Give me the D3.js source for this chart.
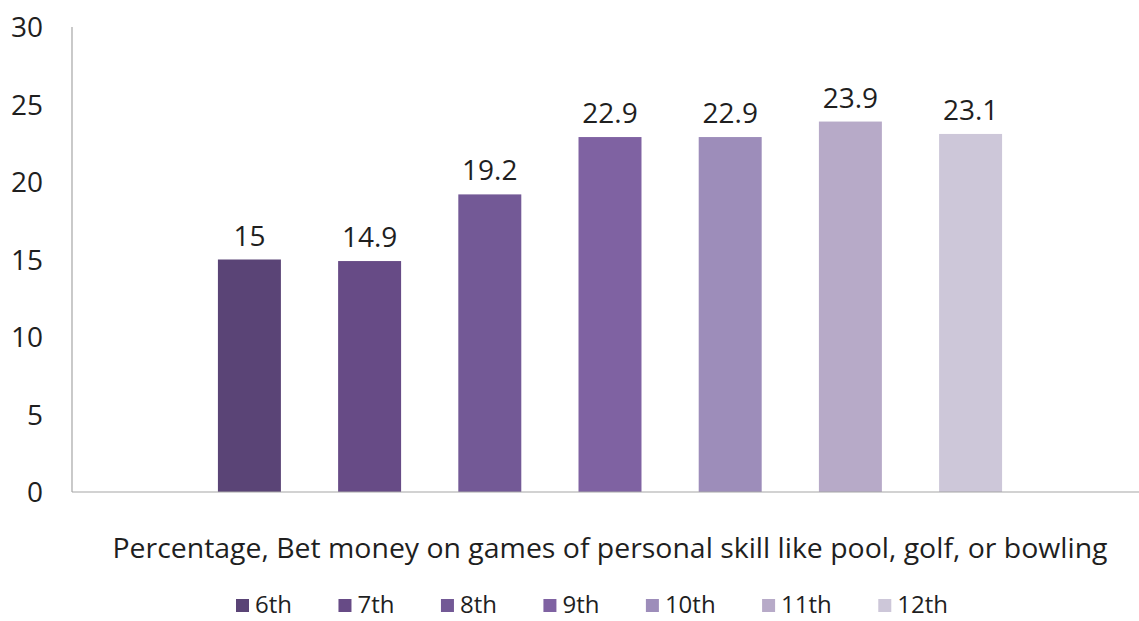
<!DOCTYPE html>
<html>
<head>
<meta charset="utf-8">
<script src="https://cdn.jsdelivr.net/npm/d3@7"></script>
<style>
  html, body { margin: 0; padding: 0; background: #ffffff; }
  svg { display: block; }
  text { font-family: "Open Sans", "DejaVu Sans", sans-serif; fill: #1f1f1f; }
</style>
</head>
<body>
<svg id="chart" width="1139" height="621"></svg>
<script>
// Grade levels (one bar each) and their percentages
const grades = ["6th", "7th", "8th", "9th", "10th", "11th", "12th"];
const values = [15, 14.9, 19.2, 22.9, 22.9, 23.9, 23.1];
const colors = ["#5a4476", "#674b86", "#735996", "#7f62a2", "#9d8dba", "#b7aac8", "#cdc7d9"];
const yTicks = [0, 5, 10, 15, 20, 25, 30];
const categoryLabel = "Percentage, Bet money on games of personal skill like pool, golf, or bowling";

const W = 1139, H = 621;
const plot = { left: 72, right: 1148, top: 27, bottom: 492 };

const svg = d3.select("#chart");

const y = d3.scaleLinear().domain([0, 30]).range([plot.bottom, plot.top]);
const x = d3.scaleBand()
  .domain(grades)
  .range([plot.left, plot.right])
  .paddingInner(0.476)
  .paddingOuter(1.214);

// Value axis: labels only, with a plain vertical rule
const yAxis = d3.axisLeft(y).tickValues(yTicks).tickSize(0).tickPadding(0);
const gy = svg.append("g").attr("transform", `translate(43,0)`).call(yAxis);
gy.select(".domain").remove();
gy.selectAll("text")
  .attr("x", 0)
  .attr("dy", "0.34em")
  .style("font-family", '"Open Sans", sans-serif')
  .style("font-size", "28px")
  .attr("fill", "#1f1f1f");

svg.append("line")
  .attr("x1", plot.left).attr("x2", plot.left)
  .attr("y1", plot.top).attr("y2", plot.bottom)
  .attr("stroke", "#a6a6a6").attr("stroke-width", 1.2);

// Bars
svg.append("g").selectAll("rect")
  .data(grades)
  .join("rect")
  .attr("x", d => x(d))
  .attr("width", x.bandwidth())
  .attr("y", (d, i) => y(values[i]))
  .attr("height", (d, i) => y(0) - y(values[i]))
  .attr("fill", (d, i) => colors[i]);

// Category baseline
svg.append("line")
  .attr("x1", plot.left).attr("x2", W)
  .attr("y1", plot.bottom).attr("y2", plot.bottom)
  .attr("stroke", "#a6a6a6").attr("stroke-width", 1.2);

// Data labels
svg.append("g").selectAll("text")
  .data(grades)
  .join("text")
  .attr("x", d => x(d) + x.bandwidth() / 2)
  .attr("y", (d, i) => y(values[i]) - 14)
  .attr("text-anchor", "middle")
  .style("font-size", "28px")
  .text((d, i) => values[i]);

// Category label
svg.append("text")
  .attr("x", 610)
  .attr("y", 558)
  .attr("text-anchor", "middle")
  .attr("textLength", 995)
  .attr("lengthAdjust", "spacingAndGlyphs")
  .style("font-size", "27px")
  .text(categoryLabel);

// Legend, laid out left to right between fixed ends
const legendLeft = 236, legendRight = 948;
const legend = svg.append("g");
const items = legend.selectAll("g")
  .data(grades)
  .join("g");
items.append("rect")
  .attr("width", 13).attr("height", 13)
  .attr("y", -14)
  .attr("fill", (d, i) => colors[i]);
items.append("text")
  .attr("x", 19)
  .attr("y", 0)
  .style("font-size", "24px")
  .text(d => d);

const widths = [];
items.each(function () {
  widths.push(19 + d3.select(this).select("text").node().getComputedTextLength());
});
const gap = (legendRight - legendLeft - d3.sum(widths)) / (grades.length - 1);
let cursor = 0;
items.each(function (d, i) {
  d3.select(this).attr("transform", `translate(${cursor},0)`);
  cursor += widths[i] + gap;
});
legend.attr("transform", `translate(${legendLeft},613)`);
</script>
</body>
</html>
